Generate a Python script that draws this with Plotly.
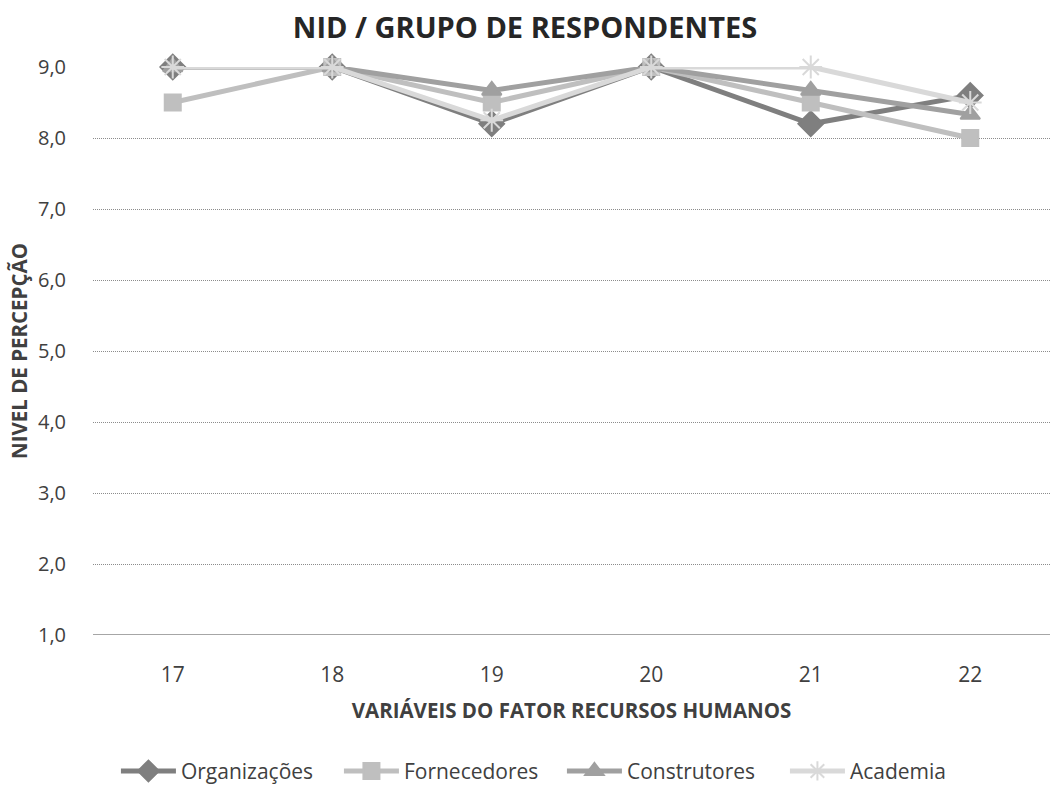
import plotly.graph_objects as go

categories = [17, 18, 19, 20, 21, 22]
organizacoes = [9.0, 9.0, 8.2, 9.0, 8.2, 8.6]
fornecedores = [8.5, 9.0, 8.5, 9.0, 8.5, 8.0]
construtores = [9.0, 9.0, 8.67, 9.0, 8.67, 8.33]
academia = [9.0, 9.0, 8.25, 9.0, 9.0, 8.5]
y_ticks = [1, 2, 3, 4, 5, 6, 7, 8, 9]
y_tick_labels = ["1,0", "2,0", "3,0", "4,0", "5,0", "6,0", "7,0", "8,0", "9,0"]

series = [
    ("Organizações", organizacoes, "#7f7f7f", "diamond", 19),
    ("Fornecedores", fornecedores, "#bfbfbf", "square", 16),
    ("Construtores", construtores, "#a0a0a0", "triangle-up", 17),
    ("Academia", academia, "#d9d9d9", "asterisk-open", 19),
]

fig = go.Figure()
for name, vals, color, sym, size in series:
    fig.add_trace(go.Scatter(
        x=categories, y=vals, name=name, mode="lines+markers",
        line=dict(color=color, width=5),
        marker=dict(symbol=sym, size=size, color=color,
                    line=dict(color=color, width=2)),
        cliponaxis=False,
    ))

font_family = "Open Sans"
fig.update_layout(
    width=1050, height=787,
    margin=dict(l=93, r=0, t=67, b=152, autoexpand=False),
    paper_bgcolor="white", plot_bgcolor="white",
    title=dict(text="<b>NID / GRUPO DE RESPONDENTES</b>", x=0.5, xanchor="center",
               y=1 - 28 / 787, yanchor="middle",
               font=dict(family=font_family, size=29, color="#262626")),
    font=dict(family=font_family, color="#404040"),
    xaxis=dict(
        tickmode="array", tickvals=categories, ticktext=[str(c) for c in categories],
        range=[16.5, 22.5], showgrid=False, zeroline=False, showline=False,
        tickfont=dict(size=21, color="#404040"),
        ticks="outside", ticklen=21, tickcolor="rgba(0,0,0,0)",
        title=dict(text="<b>VARIÁVEIS DO FATOR RECURSOS HUMANOS</b>",
                   font=dict(size=20.5, color="#404040"), standoff=16),
    ),
    yaxis=dict(
        tickmode="array", tickvals=y_ticks, ticktext=y_tick_labels,
        range=[1, 9], showgrid=True, gridcolor="#8c8c8c", griddash="1px,1px", gridwidth=1,
        zeroline=False, showline=False,
        ticks="outside", ticklen=22, tickcolor="rgba(0,0,0,0)",
        tickfont=dict(size=20, color="#404040"),
        title=dict(text="<b>NIVEL DE PERCEPÇÃO</b>",
                   font=dict(size=20.5, color="#404040"), standoff=4),
    ),
    legend=dict(orientation="h", x=0.49, xanchor="center", y=-0.24, yanchor="middle",
                font=dict(size=21, color="#404040"), itemwidth=55,
                entrywidth=153, traceorder="normal"),
    showlegend=True,
)
fig.add_shape(type="line", xref="paper", yref="y", x0=0, x1=1, y0=1, y1=1,
              line=dict(color="#a6a6a6", width=2), layer="below")

fig.write_html("out.html", config={"displayModeBar": False},
               post_script="document.body.style.margin='0';document.body.style.overflow='hidden';")
